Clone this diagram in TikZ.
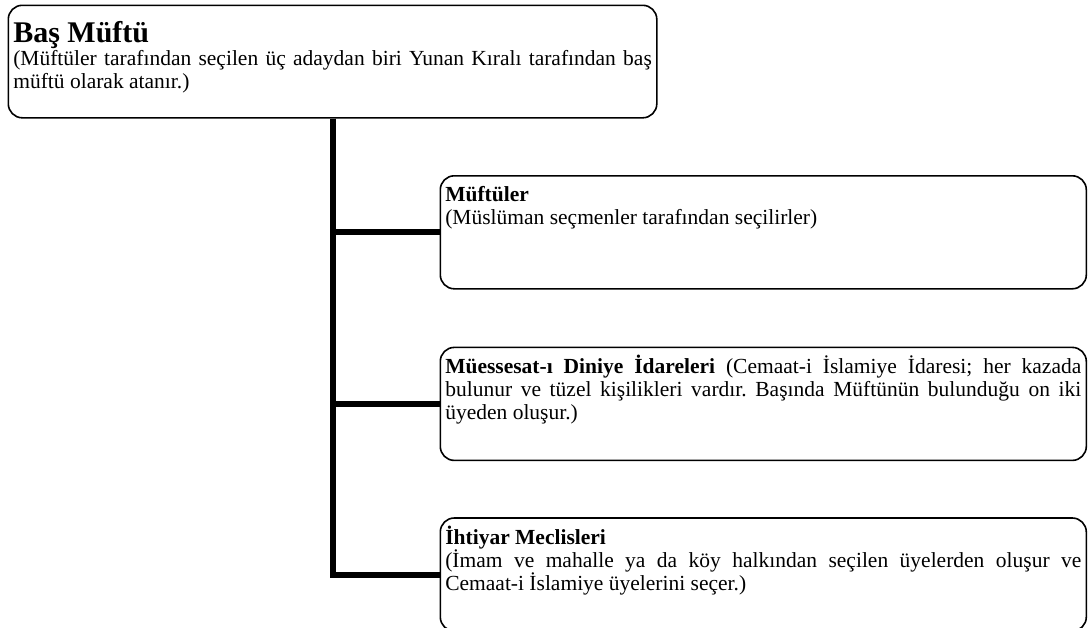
\documentclass[tikz,border=0pt]{standalone}
\usepackage{fontspec}
\setmainfont{Liberation Serif}
\usetikzlibrary{positioning}
\hyphenpenalty=10000
\exhyphenpenalty=10000
\tolerance=9999
\frenchspacing

\begin{document}
\begin{tikzpicture}[x=1pt,y=-1pt]
        \tikzset{rblock/.style={draw, line width=1.6pt, rounded corners=14pt, anchor=north west,
          align=justify, text width=636pt, inner xsep=5pt, inner ysep=6pt,
          text height=20pt, text depth=81pt, font=\fontsize{21.5}{23}\selectfont},
        conn/.style={draw, line width=6pt, line join=miter},
        }
        \useasboundingbox (0,0) rectangle (1092,627);
        \node [rblock, text width=638.5pt, text height=31.5pt, text depth=69pt] (bas) at (7.5,4.5)
          {{\fontsize{30}{23}\selectfont\textbf{Baş Müftü}}\\
          (Müftüler tarafından seçilen üç adaydan biri Yunan Kıralı tarafından baş\linebreak
          müftü olarak atanır.)};
        \node [rblock] (muftuler) at (439.5,175)
          {\textbf{Müftüler}\\
          (Müslüman seçmenler tarafından seçilirler)};
        \node [rblock] (idare) at ([yshift=-57pt]muftuler.south west)
          {\textbf{Müessesat-ı Diniye İdareleri} (Cemaat-i İslamiye İdaresi; her kazada\linebreak
          bulunur ve tüzel kişilikleri vardır. Başında Müftünün bulunduğu on iki\linebreak
          üyeden oluşur.)};
        \node [rblock] (ihtiyar) at ([yshift=-56pt]idare.south west)
          {\textbf{İhtiyar Meclisleri}\\
          (İmam ve mahalle ya da köy halkından seçilen üyelerden oluşur ve\linebreak
          Cemaat-i İslamiye üyelerini seçer.)};
%% paths
        \draw[conn] (bas.south) |- (ihtiyar.west);
        \draw[conn] (bas.south) |- (muftuler.west);
        \draw[conn] (bas.south) |- (idare.west);
    \end{tikzpicture}
\end{document}
